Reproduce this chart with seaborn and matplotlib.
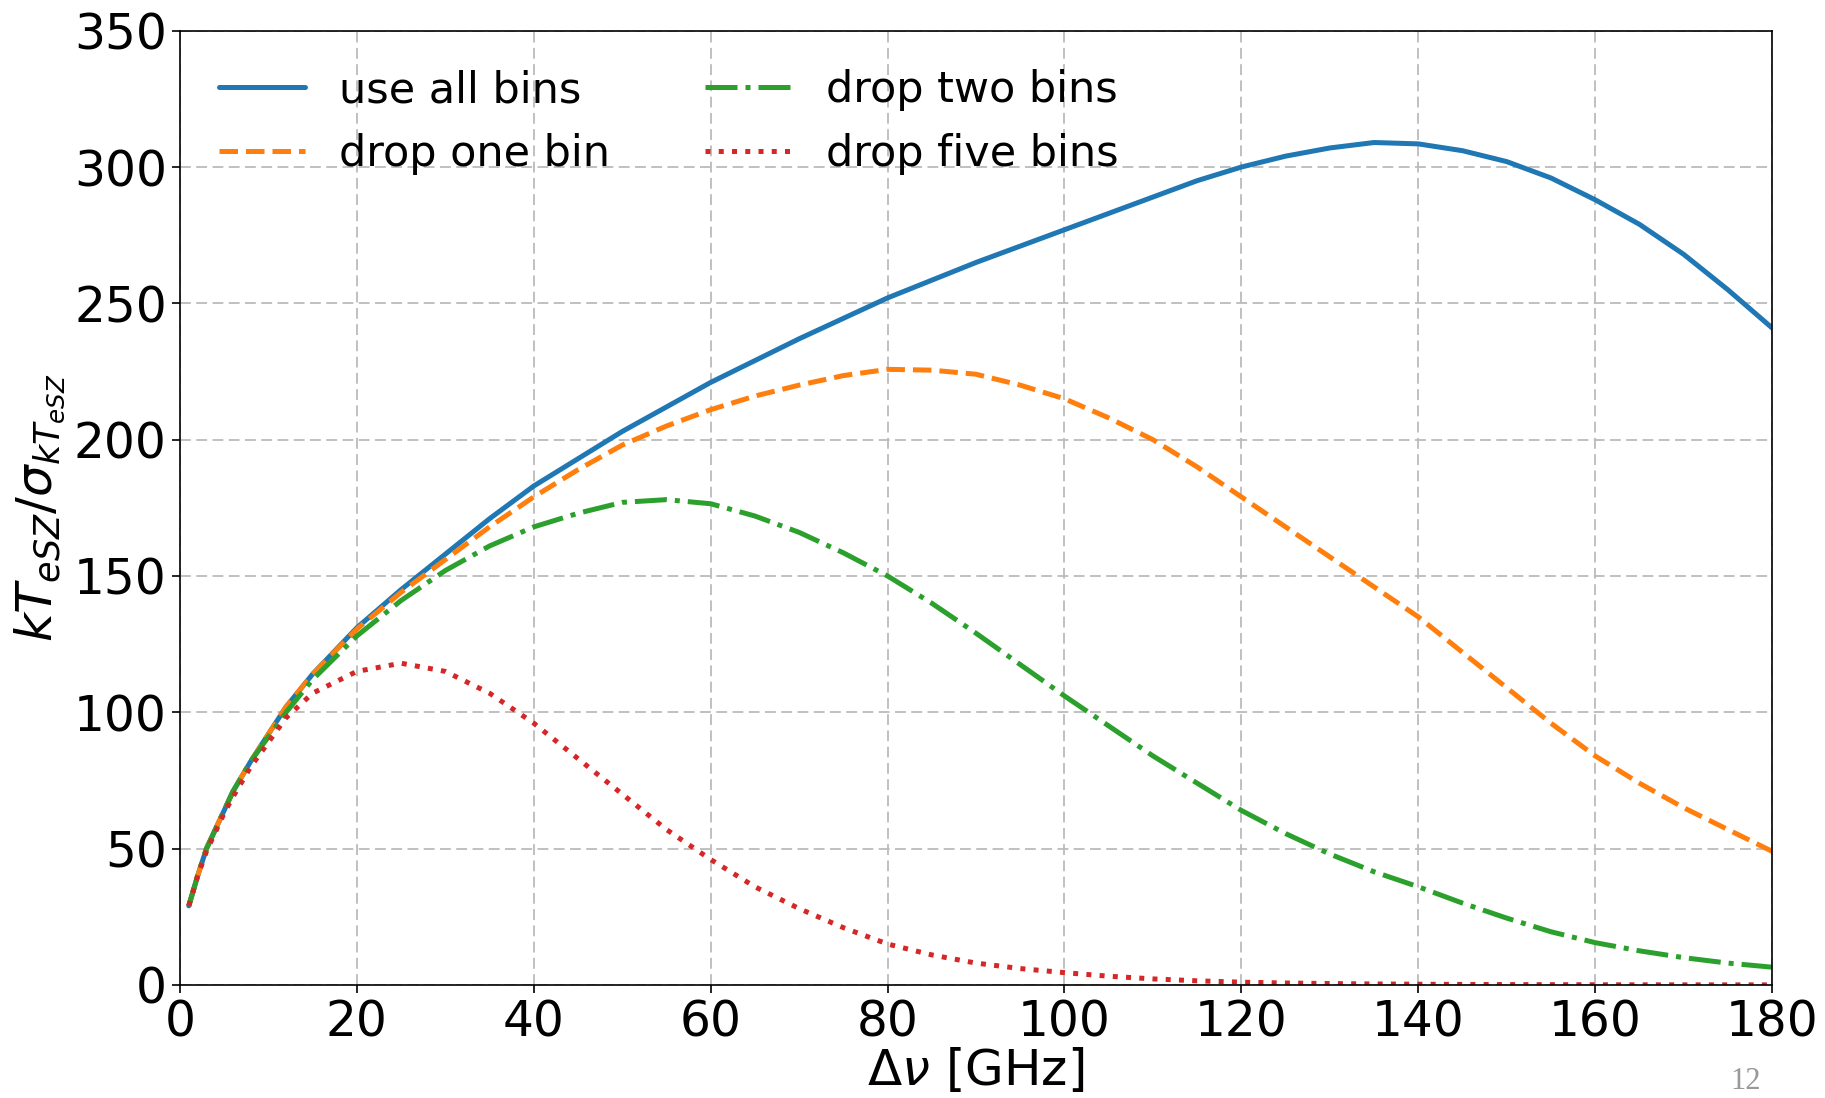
import numpy as np
import pandas as pd
import matplotlib
matplotlib.use("Agg")
import matplotlib.pyplot as plt
import seaborn as sns

# Delta nu [GHz] sample points
dnu = [1, 2, 3, 4, 5, 6, 8, 10, 12, 15, 20, 25, 30, 35, 40, 45, 50, 55, 60,
       65, 70, 75, 80, 85, 90, 95, 100, 105, 110, 115, 120, 125, 130, 135,
       140, 145, 150, 155, 160, 165, 170, 175, 180]

use_all = [29, 40, 50, 57, 64, 71, 82, 92, 102, 114, 131, 145, 158, 171, 183, 193, 203, 212, 221,
           229, 237, 244.5, 252, 258.5, 265, 271, 277, 283, 289, 295, 300, 304, 307, 309,
           308.5, 306, 302, 296, 288, 279, 268, 255, 241]
drop_one = [29, 40, 50, 57, 64, 71, 82, 92, 102, 114, 130.5, 144, 156, 168, 179, 189, 198, 205, 211,
            216, 220, 223.5, 225.8, 225.5, 224, 220, 215, 208, 200, 190, 179, 168, 157, 146,
            135, 122, 109, 96, 84, 74, 65, 57, 49]
drop_two = [29, 40, 50, 57, 64, 71, 82, 91, 100, 112, 128, 141, 152, 161, 168, 173, 177, 178, 176.5,
            172, 166, 158.5, 150, 140, 129, 117.5, 106, 95, 84, 74, 64, 55.5, 48, 41.5,
            36, 30, 24.5, 19.5, 15.5, 12.5, 10, 8, 6.5]
drop_five = [29, 40, 49, 56, 63, 69, 80, 89, 98, 107, 115, 118, 115, 107, 96, 83, 70, 57, 46,
             36, 28, 21, 15, 11, 8, 6, 4.5, 3.2, 2.2, 1.5, 1, 0.7, 0.5, 0.35,
             0.25, 0.18, 0.12, 0.08, 0.05, 0.03, 0.02, 0.015, 0.01]

series = [
    ("use all bins", use_all, "#1f77b4", "-"),
    ("drop one bin", drop_one, "#ff7f0e", "--"),
    ("drop two bins", drop_two, "#2ca02c", "-."),
    ("drop five bins", drop_five, "#d62728", ":"),
]

sns.set_style("ticks", rc={"text.color": "black", "axes.labelcolor": "black",
                           "xtick.color": "black", "ytick.color": "black",
                           "axes.edgecolor": "black"})
plt.rcParams["font.family"] = ["DejaVu Sans"]
plt.rcParams["mathtext.fontset"] = "dejavusans"

fig = plt.figure(figsize=(18.25, 10.98), dpi=100)
ax = fig.add_axes([0.0986, 0.103, 0.8724, 0.869])

for label, vals, color, ls in series:
    df = pd.DataFrame({"dnu": dnu, "snr": vals})
    sns.lineplot(data=df, x="dnu", y="snr", ax=ax, color=color, linestyle=ls,
                 linewidth=3.6, label=label, sort=False)

ax.set_xlim(0, 180)
ax.set_ylim(0, 350)
ax.set_xticks(np.arange(0, 181, 20))
ax.set_yticks(np.arange(0, 351, 50))
ax.grid(True, color="#bbbbbb", linewidth=1.3, dashes=(6, 3))
ax.tick_params(labelsize=35, length=6, width=1.2)
for s in ax.spines.values():
    s.set_linewidth(1.2)

ax.set_xlabel(r"$\Delta\nu$ [GHz]", fontsize=36, labelpad=0)
ax.set_ylabel(r"$kT_{eSZ}/\sigma_{kT_{eSZ}}$", fontsize=36, labelpad=4)

ax.legend(loc="upper left", ncol=2, frameon=False, fontsize=31,
          handlelength=2.0, handletextpad=0.8, labelspacing=0.5, columnspacing=2.2)

fig.text(0.948, 0.002, "12", color="#999999", fontsize=22,
         family="Liberation Serif", ha="left", va="bottom")

fig.savefig("out.png", dpi=100)
